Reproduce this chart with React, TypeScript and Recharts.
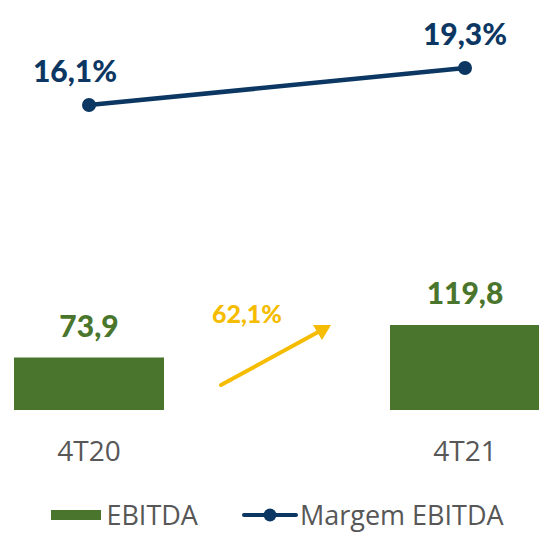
import React from 'react';
import { ComposedChart, Bar, Line, XAxis, YAxis, Legend, LabelList, Customized } from 'recharts';

const categories = ['4T20', '4T21'];
const ebitda = [73.9, 119.8];
const margem = [16.1, 19.3];
const growthLabel = '62,1%';

const GREEN = '#4a752c';
const NAVY = '#0c3763';
const YELLOW = '#f5bc00';
const GREY = '#575757';

const data = categories.map((name, i) => ({ name, ebitda: ebitda[i], margem: margem[i] }));

const fmt = (v: number, suffix = '') => v.toFixed(1).replace('.', ',') + suffix;

const BarLabel = (props: any) => {
  const { x, y, width, value } = props;
  return (
    <text x={x + width / 2} y={y - 33} textAnchor="middle" dominantBaseline="central"
      fill={GREEN} fontFamily="Lato" fontWeight={900} fontSize={30}>
      {fmt(value)}
    </text>
  );
};

const LineLabel = (props: any) => {
  const { x, y, value, index } = props;
  const dx = index === 0 ? -14 : 0;
  return (
    <text x={x + dx} y={y - 35} textAnchor="middle" dominantBaseline="central"
      fill={NAVY} fontFamily="Lato" fontWeight={900} fontSize={30}>
      {fmt(value, '%')}
    </text>
  );
};

const Tick = (props: any) => {
  const { x, y, payload } = props;
  return (
    <text x={x} y={y + 40} textAnchor="middle" dominantBaseline="central"
      fill={GREY} fontFamily="Open Sans" fontSize={28}>
      {payload.value}
    </text>
  );
};

// annotation arrow between the bars
const GrowthArrow = () => (
  <g>
    <line x1={221} y1={385} x2={320} y2={331} stroke={YELLOW} strokeWidth={4} strokeLinecap="round" />
    <polygon points="331,325 313,325 322,340" fill={YELLOW} />
    <text x={247} y={313} textAnchor="middle" dominantBaseline="central"
      fill={YELLOW} fontFamily="Lato" fontWeight={900} fontSize={25}>
      {growthLabel}
    </text>
  </g>
);

const LegendContent = () => (
  <div style={{ height: 67, display: 'flex', alignItems: 'flex-end', justifyContent: 'center', paddingBottom: 4, paddingLeft: 16, boxSizing: 'border-box', fontFamily: 'Open Sans', fontSize: 27, color: GREY }}>
    <div style={{ display: 'flex', alignItems: 'center', marginRight: 44 }}>
      <div style={{ width: 50, height: 10, background: GREEN, marginRight: 5 }} />
      <span>EBITDA</span>
    </div>
    <div style={{ display: 'flex', alignItems: 'center' }}>
      <svg width={56} height={16} style={{ marginRight: 2 }}>
        <line x1={2} y1={8} x2={54} y2={8} stroke={NAVY} strokeWidth={4} strokeLinecap="round" />
        <circle cx={28} cy={8} r={6.5} fill={NAVY} />
      </svg>
      <span>Margem EBITDA</span>
    </div>
  </div>
);

export default function App() {
  return (
    <div style={{ position: 'absolute', left: 0, top: 0, width: 539, height: 537, background: '#fff' }}>
      <ComposedChart width={539} height={537} data={data} margin={{ top: 10, right: 0, bottom: 0, left: 0 }}>
        <XAxis dataKey="name" scale="point" padding={{ left: 89, right: 74 }} axisLine={false} tickLine={false}
          tickSize={0} tickMargin={0} height={60} tick={<Tick />} interval={0} />
        <YAxis yAxisId="bar" hide domain={[0, 563.8]} />
        <YAxis yAxisId="line" hide orientation="right" domain={[-10.27, 24.32]} />
        <Legend verticalAlign="bottom" content={<LegendContent />} />
        <Bar yAxisId="bar" dataKey="ebitda" fill={GREEN} barSize={150} isAnimationActive={false}>
          <LabelList dataKey="ebitda" content={<BarLabel />} />
        </Bar>
        <Line yAxisId="line" dataKey="margem" stroke={NAVY} strokeWidth={4.5}
          dot={{ r: 7, fill: NAVY, stroke: NAVY, strokeWidth: 0 }} isAnimationActive={false}>
          <LabelList dataKey="margem" content={<LineLabel />} />
        </Line>
        <Customized component={GrowthArrow} />
      </ComposedChart>
    </div>
  );
}
